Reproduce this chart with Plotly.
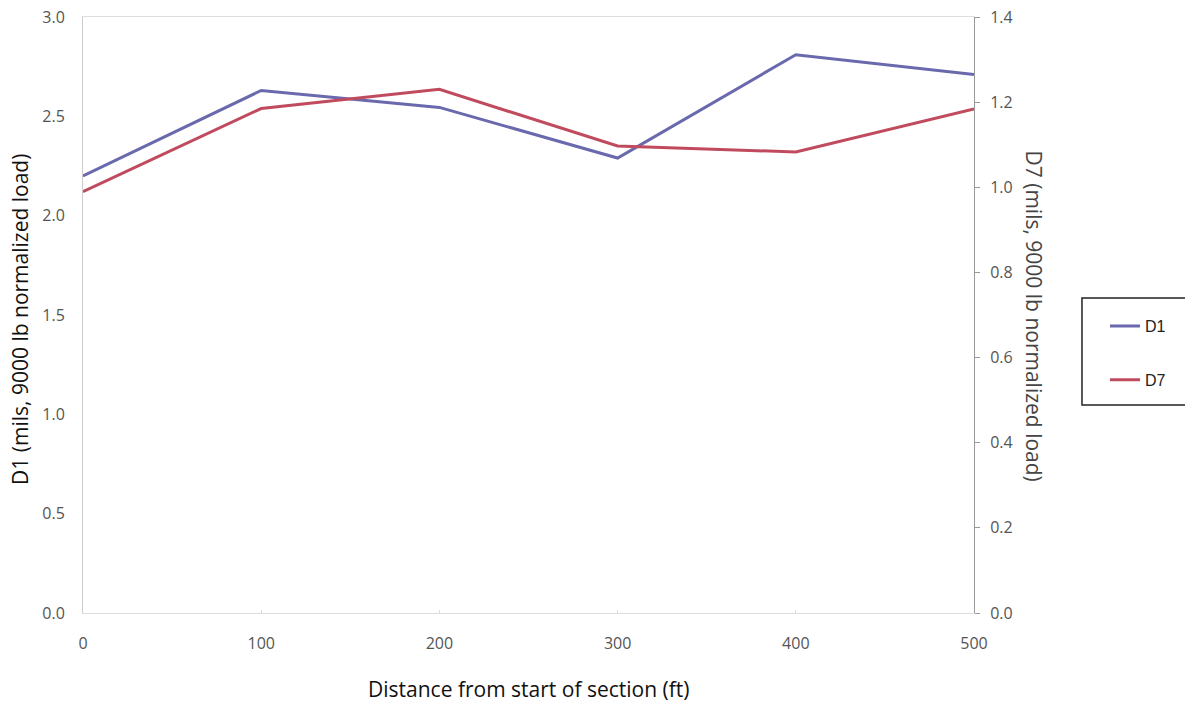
import plotly.graph_objects as go

distance = [0, 100, 200, 300, 400, 500]
d1 = [2.20, 2.63, 2.545, 2.29, 2.81, 2.71]
d7 = [0.99, 1.185, 1.23, 1.097, 1.083, 1.184]
left_ticks = [0.0, 0.5, 1.0, 1.5, 2.0, 2.5, 3.0]
right_ticks = [0.0, 0.2, 0.4, 0.6, 0.8, 1.0, 1.2, 1.4]

tick_font = dict(family="Open Sans, DejaVu Sans, sans-serif", size=16, color="#555555")
title_font = dict(family="Open Sans, sans-serif", size=21, color="#111111")
title_font_r = dict(family="Open Sans, sans-serif", size=21, color="#444444")

fig = go.Figure()
fig.add_trace(go.Scatter(x=distance, y=d1, name="D1", mode="lines",
                         line=dict(color="#6a69ad", width=3), legendgroup="a"))
fig.add_trace(go.Scatter(x=distance, y=d7, name="D7", mode="lines", yaxis="y2",
                         line=dict(color="#c14b5e", width=3), legendgroup="b"))

fig.update_layout(
    width=1185, height=702,
    margin=dict(l=83, r=211, t=17, b=89, autoexpand=False),
    paper_bgcolor="white", plot_bgcolor="white",
    showlegend=True,
    legend=dict(x=1.147, y=0.436, xanchor="left", yanchor="middle",
                borderwidth=0, bgcolor="rgba(0,0,0,0)",
                font=dict(family="Liberation Sans, Arial, sans-serif", size=16, color="#222"),
                tracegroupgap=30),
    xaxis=dict(range=[0, 500], tickvals=distance, showgrid=False, zeroline=False,
               showline=True, linecolor="#dddddd", linewidth=1, mirror=True,
               ticks="inside", ticklen=3, tickcolor="#dddddd",
               tickfont=tick_font, ticklabelstandoff=16),
    yaxis=dict(range=[0, 3.0], tickvals=left_ticks, tickformat=".1f", showgrid=False,
               zeroline=False, showline=True, linecolor="#cccccc", linewidth=1,
               tickfont=tick_font, ticklabelstandoff=14),
    yaxis2=dict(range=[0, 1.4], tickvals=right_ticks, tickformat=".1f", overlaying="y",
                side="right", showgrid=False, zeroline=False, showline=True,
                linecolor="#999999", linewidth=1, ticks="outside", ticklen=5,
                tickcolor="#999999", tickfont=tick_font, ticklabelstandoff=7),
    shapes=[dict(type="rect", xref="paper", yref="paper",
                 x0=1.1212, x1=1.26, y0=0.349, y1=0.5285,
                 line=dict(color="#222222", width=1.5), fillcolor="rgba(0,0,0,0)")],
    annotations=[
        dict(text="Distance from start of section (ft)", xref="paper", yref="paper",
             x=0.5, y=-0.128, xanchor="center", yanchor="middle", showarrow=False,
             font=title_font),
        dict(text="D1 (mils, 9000 lb normalized load)", xref="paper", yref="paper",
             x=-0.071, y=0.493, xanchor="center", yanchor="middle", showarrow=False,
             textangle=-90, font=title_font),
        dict(text="D7 (mils, 9000 lb normalized load)", xref="paper", yref="paper",
             x=1.067, y=0.498, xanchor="center", yanchor="middle", showarrow=False,
             textangle=90, font=title_font_r),
    ],
)

fig.write_html("out.html", config={"displayModeBar": False},
               post_script="document.body.style.margin='0';")
